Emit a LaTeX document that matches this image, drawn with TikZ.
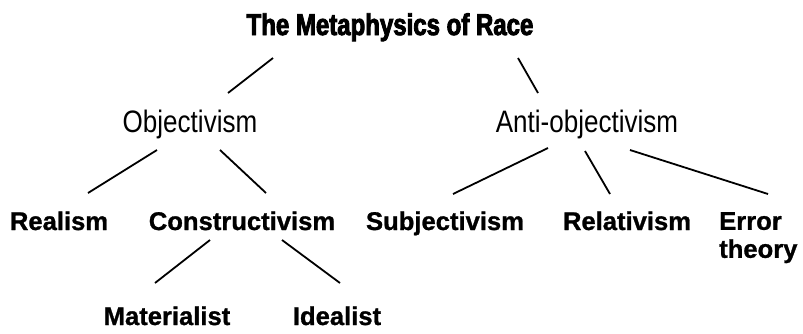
\documentclass[tikz,border=0pt]{standalone}
\usepackage{fontspec}
\setmainfont{Liberation Sans}
\newfontfamily\titlefont{Liberation Sans}[FakeStretch=0.80, BoldFeatures={FakeBold=3}]
\newfontfamily\condfont{Liberation Sans}[FakeStretch=0.84]
\newfontfamily\leaffont{Liberation Sans}[BoldFeatures={FakeBold=1}]
\usepackage{tikz}

\begin{document}
\begin{tikzpicture}[
    x=1pt, y=-1pt,
    heading/.style={inner sep=0pt, anchor=base, font=\titlefont\bfseries\fontsize{30}{36}\selectfont},
    school/.style={inner sep=0pt, anchor=base, font=\condfont\fontsize{31}{36}\selectfont},
    leaf/.style={inner sep=0pt, anchor=base, font=\leaffont\bfseries\fontsize{25.6}{28}\selectfont},
    link/.style={line width=1.8pt}
  ]
  \useasboundingbox (0,0) rectangle (803,333);

  \node[heading] (race) at (390,35) {The Metaphysics of Race};

  \node[school] (obj) at (190,132) {Objectivism};
  \node[school] (anti) at (587,132) {Anti-objectivism};

  \node[leaf] (real) at (59,230) {Realism};
  \node[leaf] (cons) at (242,230) {Constructivism};
  \node[leaf] (subj) at (445,230) {Subjectivism};
  \node[leaf] (rel) at (627,230) {Relativism};
  \node[leaf, anchor=north west, align=left] (err) at (719,212) {Error\\theory};

  \node[leaf] (mat) at (167,325) {Materialist};
  \node[leaf] (ideal) at (337,325) {Idealist};

  \draw[link] ([shift={(-117,23)}]race.base) -- ([shift={(38,-39)}]obj.base);
  \draw[link] ([shift={(128,23)}]race.base) -- ([shift={(-49,-39)}]anti.base);

  \draw[link] ([shift={(-33,18)}]obj.base) -- ([shift={(29,-37)}]real.base);
  \draw[link] ([shift={(30,18)}]obj.base) -- ([shift={(24,-37)}]cons.base);

  \draw[link] ([shift={(-39,16)}]anti.base) -- ([shift={(8,-36)}]subj.base);
  \draw[link] ([shift={(-2,19)}]anti.base) -- ([shift={(-17,-36)}]rel.base);
  \draw[link] ([shift={(43,18)}]anti.base) -- ([shift={(49,-18)}]err.north west);

  \draw[link] ([shift={(-32,10)}]cons.base) -- ([shift={(-12,-42)}]mat.base);
  \draw[link] ([shift={(40,10)}]cons.base) -- ([shift={(3,-42)}]ideal.base);
\end{tikzpicture}
\end{document}
